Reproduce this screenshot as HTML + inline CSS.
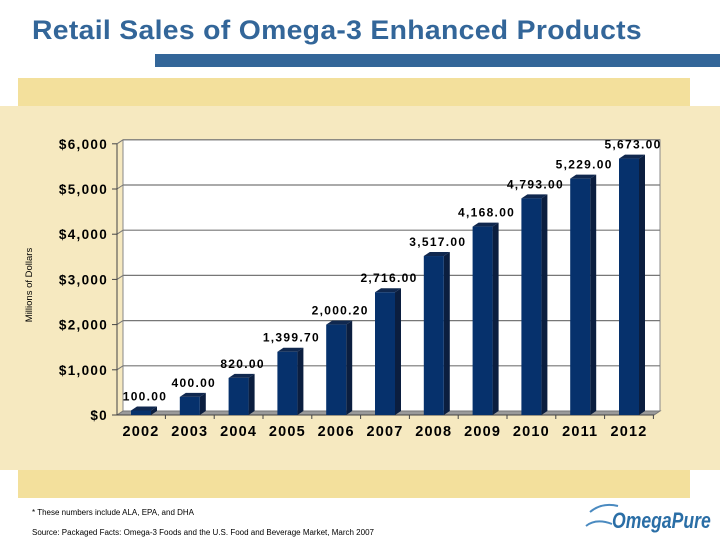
<!DOCTYPE html>
<html><head><meta charset="utf-8"><style>
body{margin:0;width:720px;height:540px;overflow:hidden;background:#fff;font-family:"Liberation Sans",sans-serif;position:relative}
.a{position:absolute}
</style></head><body>
<div class="a" style="left:32px;top:15px;font-size:27px;font-weight:bold;color:#336699;letter-spacing:0.3px;transform:scaleX(1.05);transform-origin:left;white-space:nowrap">Retail Sales of Omega-3 Enhanced Products</div>
<div class="a" style="left:155px;top:54px;width:565px;height:13px;background:#336699"></div>
<div class="a" style="left:18px;top:78px;width:672px;height:28px;background:#f3e09c"></div>
<div class="a" style="left:0;top:106px;width:720px;height:364px;background:#f6e9c0"></div>
<div class="a" style="left:18px;top:470px;width:672px;height:28px;background:#f3e09c"></div>
<svg class="a" style="left:0;top:0" width="720" height="540">
<g id="g"></g>
<text transform="translate(32,285) rotate(-90)" text-anchor="middle" font-size="9.5" fill="#000" font-family="Liberation Sans">Millions of Dollars</text>
</svg>
<div class="a" style="left:32px;top:508px;font-size:8px;color:#000">* These numbers include ALA, EPA, and DHA</div>
<div class="a" style="left:32px;top:528px;font-size:8px;color:#000">Source: Packaged Facts: Omega-3 Foods and the U.S. Food and Beverage Market, March 2007</div>
<div class="a" style="left:612px;top:508px;font-size:22px;font-weight:bold;color:#2a6ea6;transform:scaleX(0.8);transform-origin:left;font-style:italic">OmegaPure</div>
<svg class="a" style="left:582px;top:498px" width="40" height="34"><path d="M4 28 Q14 20 30 26 M8 14 Q20 4 36 8" stroke="#4a8ac0" stroke-width="2" fill="none"/></svg>
<script>
const years=["2002","2003","2004","2005","2006","2007","2008","2009","2010","2011","2012"];
const sales=[100,400,820,1399.7,2000.2,2716,3517,4168,4793,5229,5673];
const labels=["100.00","400.00","820.00","1,399.70","2,000.20","2,716.00","3,517.00","4,168.00","4,793.00","5,229.00","5,673.00"];
const ticks=[0,1000,2000,3000,4000,5000,6000];
const tickLabels=["$0","$1,000","$2,000","$3,000","$4,000","$5,000","$6,000"];
const NS="http://www.w3.org/2000/svg",g=document.getElementById('g');
const y0=415,k=45.2/1000,dx=6,dy=4;
const yv=v=>y0-v*k, xc=i=>141+i*48.8;
function mk(t,a){const e=document.createElementNS(NS,t);for(const n in a)e.setAttribute(n,a[n]);g.appendChild(e);return e;}
let e;
e=mk('rect',{x:123,y:yv(6000)-dy,width:537,height:6000*k,fill:'#fff',stroke:'#888','stroke-width':1});


e=mk('polygon',{points:`117,${y0} 654,${y0} 660,${y0-dy} 123,${y0-dy}`,fill:'#9a9a9a',stroke:'#777'});


ticks.forEach((t,i)=>{
 if(t>0){e=mk('line',{x1:123,x2:660,y1:yv(t)-dy,y2:yv(t)-dy,stroke:'#777','stroke-width':1.2});
 
 
 e=mk('line',{x1:117,x2:123,y1:yv(t),y2:yv(t)-dy,stroke:'#777'});
 
 }
 e=mk('line',{x1:112,x2:117,y1:yv(t),y2:yv(t),stroke:'#444'});
 
 
 e=mk('text',{x:108,y:yv(t)+5,'text-anchor':'end','font-size':13.5,'font-weight':'bold','letter-spacing':1.3,'font-family':'Liberation Sans'});
 e.textContent=tickLabels[i];
 
 
});
e=mk('line',{x1:117,x2:117,y1:yv(6000),y2:y0,stroke:'#444'});


e=mk('line',{x1:117,x2:654,y1:y0,y2:y0,stroke:'#444'});


years.forEach((yr,i)=>{
 const x=xc(i)-10,w=20,t=yv(sales[i]);
 e=mk('polygon',{points:`${x+w},${y0} ${x+w+dx},${y0-dy} ${x+w+dx},${t-dy} ${x+w},${t}`,fill:'#0b1e3f'});
 
 
 e=mk('polygon',{points:`${x},${t} ${x+dx},${t-dy} ${x+w+dx},${t-dy} ${x+w},${t}`,fill:'#10284f'});
 
 
 e=mk('rect',{x:x,y:t,width:w,height:y0-t,fill:'#06316c'});
 
 
 e=mk('text',{x:xc(i)+4,y:t-10,'text-anchor':'middle','font-size':12,'font-weight':'bold','letter-spacing':1.3,'font-family':'Liberation Sans'});
 e.textContent=labels[i];
 
 
 e=mk('text',{x:xc(i),y:436,'text-anchor':'middle','font-size':14.5,'font-weight':'bold','letter-spacing':1.2,'font-family':'Liberation Sans'});
 e.textContent=yr;
 
 
 e=mk('line',{x1:xc(i)+24.4,x2:xc(i)+24.4,y1:y0,y2:y0+4,stroke:'#444'});
 
 
});
</script>
</body></html>
